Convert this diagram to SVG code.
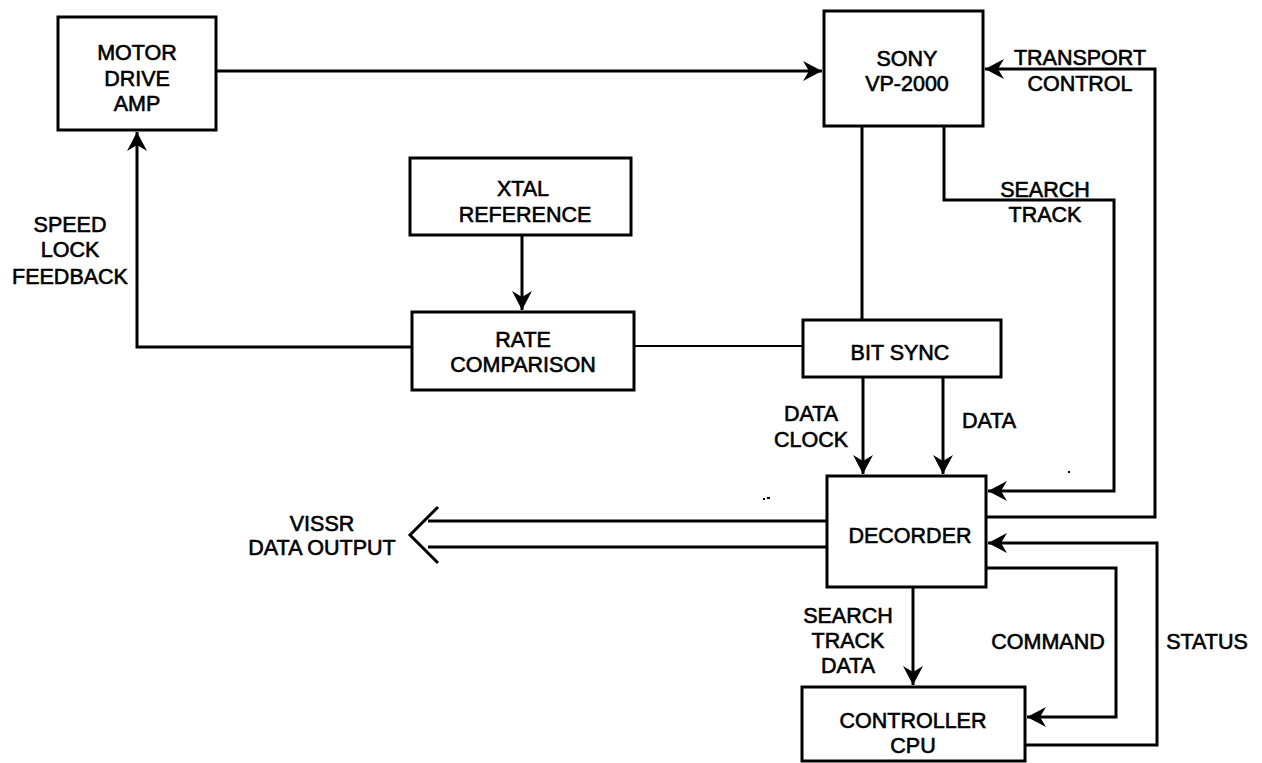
<svg xmlns="http://www.w3.org/2000/svg" width="1262" height="763" viewBox="0 0 1262 763">
  <style>
    .box { fill: #fff; stroke: #000; stroke-width: 3; }
    .wire { fill: none; stroke: #000; stroke-width: 3; }
    .thin { fill: none; stroke: #000; stroke-width: 2; }
    .lbl { font-family: "Liberation Sans", Arial, sans-serif; font-size: 21.5px; fill: #000; stroke: #000; stroke-width: 0.6; text-anchor: middle; }
  </style>
  <defs>
    <marker id="arrow" markerUnits="userSpaceOnUse" markerWidth="24" markerHeight="24" viewBox="-21 -12 23 24" refX="0" refY="0" orient="auto">
      <path d="M0,0 L-19,-10 L-13,0 L-19,10 Z" fill="#000"/>
    </marker>
  </defs>
  <rect width="1262" height="763" fill="#fff"/>

  <!-- connectors -->
  <g id="connectors">
    <path class="wire" d="M216,71 H822" marker-end="url(#arrow)"/>
    <path class="wire" d="M412,347 H137 V132" marker-end="url(#arrow)"/>
    <path class="thin" d="M634,346 H803"/>
    <path class="wire" d="M862,126 V320"/>
    <path class="wire" d="M522,235 V310" marker-end="url(#arrow)"/>
    <path class="wire" d="M944,126 V200 H1114 V491 H988" marker-end="url(#arrow)"/>
    <path class="wire" d="M986,517 H1155 V69 H985" marker-end="url(#arrow)"/>
    <path class="wire" d="M863,377 V474" marker-end="url(#arrow)"/>
    <path class="wire" d="M943,377 V474" marker-end="url(#arrow)"/>
    <path class="wire" d="M827,521 H428"/>
    <path class="wire" d="M827,547 H428"/>
    <polyline class="wire" points="438,507 410,535 438,563"/>
    <path class="wire" d="M1025,745 H1157 V543 H988" marker-end="url(#arrow)"/>
    <path class="wire" d="M986,568 H1116 V717 H1027" marker-end="url(#arrow)"/>
    <path class="wire" d="M913,587 V685" marker-end="url(#arrow)"/>
    <!-- specks -->
    <path class="thin" d="M1068,472 h2"/>
    <path class="thin" d="M763,499 h2 M767,498 h3"/>
  </g>

  <!-- connector labels -->
  <g id="labels">
    <text class="lbl" x="70" y="232">SPEED</text>
    <text class="lbl" x="70" y="257">LOCK</text>
    <text class="lbl" x="70" y="284">FEEDBACK</text>
    <text class="lbl" x="1080" y="65">TRANSPORT</text>
    <text class="lbl" x="1080" y="91">CONTROL</text>
    <text class="lbl" x="1045" y="197">SEARCH</text>
    <text class="lbl" x="1045" y="222">TRACK</text>
    <text class="lbl" x="811" y="421">DATA</text>
    <text class="lbl" x="811" y="447">CLOCK</text>
    <text class="lbl" x="989" y="428">DATA</text>
    <text class="lbl" x="322" y="531">VISSR</text>
    <text class="lbl" x="322" y="555">DATA OUTPUT</text>
    <text class="lbl" x="848" y="623">SEARCH</text>
    <text class="lbl" x="848" y="648">TRACK</text>
    <text class="lbl" x="848" y="673">DATA</text>
    <text class="lbl" x="1048" y="649">COMMAND</text>
    <text class="lbl" x="1207" y="649">STATUS</text>
  </g>

  <g id="motor-drive-amp">
    <rect class="box" x="58" y="17" width="158" height="113"/>
    <text class="lbl" x="137" y="60">MOTOR</text>
    <text class="lbl" x="137" y="86">DRIVE</text>
    <text class="lbl" x="137" y="111">AMP</text>
  </g>

  <g id="sony-vp2000">
    <rect class="box" x="824" y="11" width="159" height="115"/>
    <text class="lbl" x="907" y="66">SONY</text>
    <text class="lbl" x="907" y="91">VP-2000</text>
  </g>

  <g id="xtal-reference">
    <rect class="box" x="410" y="158" width="221" height="77"/>
    <text class="lbl" x="523" y="196">XTAL</text>
    <text class="lbl" x="525" y="222">REFERENCE</text>
  </g>

  <g id="rate-comparison">
    <rect class="box" x="412" y="312" width="222" height="78"/>
    <text class="lbl" x="523" y="347">RATE</text>
    <text class="lbl" x="523" y="372">COMPARISON</text>
  </g>

  <g id="bit-sync">
    <rect class="box" x="803" y="320" width="198" height="57"/>
    <text class="lbl" x="900" y="360">BIT SYNC</text>
  </g>

  <g id="decorder">
    <rect class="box" x="827" y="476" width="159" height="111"/>
    <text class="lbl" x="910" y="543">DECORDER</text>
  </g>

  <g id="controller-cpu">
    <rect class="box" x="802" y="687" width="223" height="74"/>
    <text class="lbl" x="913" y="728">CONTROLLER</text>
    <text class="lbl" x="913" y="753">CPU</text>
  </g>
</svg>
